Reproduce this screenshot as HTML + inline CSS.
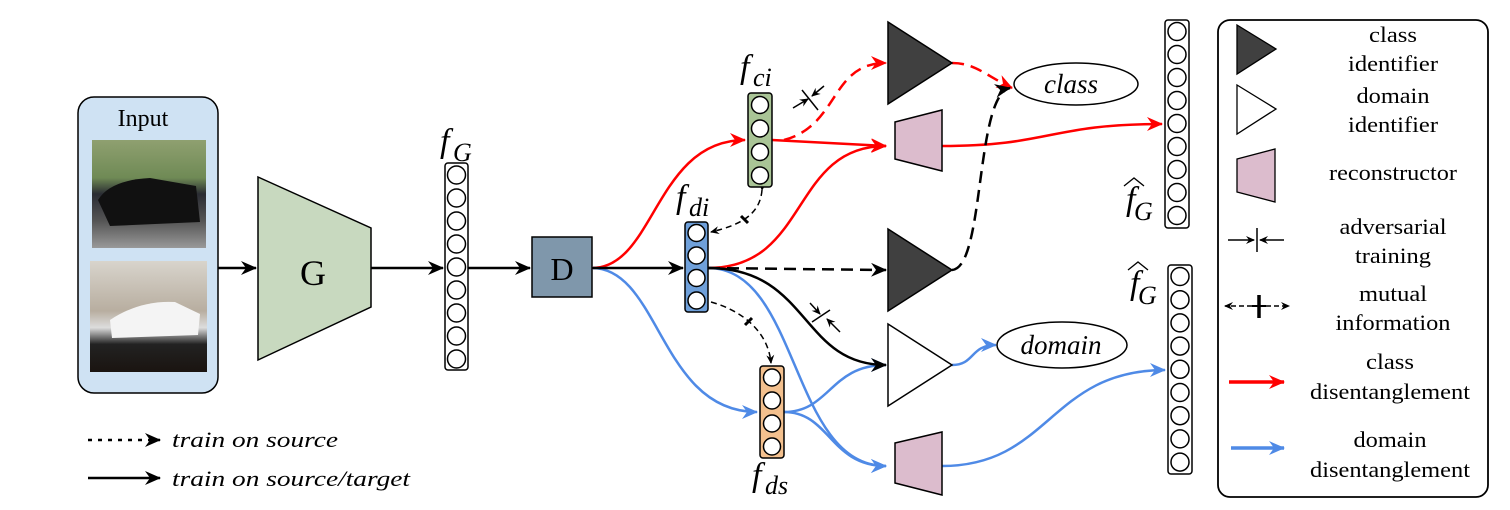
<!DOCTYPE html>
<html><head><meta charset="utf-8"><style>
html,body{margin:0;padding:0;background:#fff;}
svg{display:block;}
text{font-family:"Liberation Serif",serif;}
</style></head><body>
<svg width="1510" height="510" viewBox="0 0 1510 510" xmlns="http://www.w3.org/2000/svg">
<defs>
<marker id="ak" markerWidth="16" markerHeight="14" refX="15" refY="7" orient="auto" markerUnits="userSpaceOnUse"><path d="M0,0 L16,7 L0,14 L5,7 Z" fill="#000"/></marker>
<marker id="ar" markerWidth="16" markerHeight="14" refX="15" refY="7" orient="auto" markerUnits="userSpaceOnUse"><path d="M0,0 L16,7 L0,14 L5,7 Z" fill="#f00"/></marker>
<marker id="ab" markerWidth="16" markerHeight="14" refX="15" refY="7" orient="auto" markerUnits="userSpaceOnUse"><path d="M0,0 L16,7 L0,14 L5,7 Z" fill="#4f8ae6"/></marker>
<marker id="as" markerWidth="9" markerHeight="8" refX="8" refY="4" orient="auto" markerUnits="userSpaceOnUse"><path d="M0,0 L9,4 L0,8 L3,4 Z" fill="#000"/></marker>
<linearGradient id="p1" x1="0" y1="0" x2="0" y2="1"><stop offset="0" stop-color="#8fa070"/><stop offset="0.35" stop-color="#6f8a55"/><stop offset="0.5" stop-color="#2a2c33"/><stop offset="0.75" stop-color="#555"/><stop offset="1" stop-color="#999"/></linearGradient>
<linearGradient id="p2" x1="0" y1="0" x2="0" y2="1"><stop offset="0" stop-color="#d8d4cc"/><stop offset="0.45" stop-color="#b8aea0"/><stop offset="0.6" stop-color="#ddd"/><stop offset="0.75" stop-color="#222"/><stop offset="1" stop-color="#1a1410"/></linearGradient>
</defs>

<rect x="78" y="97" width="140" height="296" rx="16" fill="#cfe2f3" stroke="#000" stroke-width="1.5"/>
<text x="143" y="126" font-size="24" text-anchor="middle">Input</text>
<rect x="92" y="140" width="114" height="108" fill="url(#p1)"/>
<path d="M98,200 Q110,180 150,178 L196,186 L200,222 L110,226 Z" fill="#111"/>
<rect x="90" y="261" width="117" height="111" fill="url(#p2)"/>
<path d="M110,320 Q140,300 175,302 L200,314 L198,335 L112,338 Z" fill="#f4f4f4"/>
<line x1="218" y1="268" x2="256" y2="268" stroke="#000" stroke-width="2.5" marker-end="url(#ak)"/>

<polygon points="258,177 371,228 371,307 258,360" fill="#c8d9bf" stroke="#000" stroke-width="1.5"/>
<text x="313" y="285" font-size="36" text-anchor="middle">G</text>
<line x1="371" y1="268" x2="443" y2="268" stroke="#000" stroke-width="2.5" marker-end="url(#ak)"/>

<rect x="445" y="163" width="23" height="207" rx="3" fill="#fff" stroke="#000" stroke-width="1.5"/>
<g fill="#fff" stroke="#000" stroke-width="1.5">
<circle cx="456.5" cy="175" r="9"/><circle cx="456.5" cy="198" r="9"/><circle cx="456.5" cy="221" r="9"/><circle cx="456.5" cy="244" r="9"/><circle cx="456.5" cy="267" r="9"/><circle cx="456.5" cy="290" r="9"/><circle cx="456.5" cy="313" r="9"/><circle cx="456.5" cy="336" r="9"/><circle cx="456.5" cy="359" r="9"/>
</g>
<text x="440" y="152" font-size="34" font-style="italic">f</text><text x="453" y="161" font-size="26" font-style="italic">G</text>
<line x1="468" y1="268" x2="530" y2="268" stroke="#000" stroke-width="2.5" marker-end="url(#ak)"/>

<rect x="532" y="237" width="60" height="60" fill="#7f97ab" stroke="#000" stroke-width="1.5"/>
<text x="562" y="280" font-size="32" text-anchor="middle">D</text>

<g fill="none" stroke-width="2.5">
<path d="M592,268 C655,268 655,140 745,140" stroke="#f00" marker-end="url(#ar)"/>
<path d="M772,140 L886,146" stroke="#f00" marker-end="url(#ar)"/>
<path d="M708,268 C810,268 790,146 886,146" stroke="#f00" marker-end="url(#ar)"/>
<path d="M784,140 C840,125 830,63 886,63" stroke="#f00" stroke-dasharray="12,7" marker-end="url(#ar)"/>
<path d="M952,63 C975,63 985,75 1012,88" stroke="#f00" stroke-dasharray="12,7" marker-end="url(#ar)"/>
<path d="M942,146 C1050,146 1050,124 1162,124" stroke="#f00" marker-end="url(#ar)"/>

<path d="M592,268 C660,268 660,412 757,412" stroke="#4f8ae6" marker-end="url(#ab)"/>
<path d="M708,268 C800,268 790,466 886,466" stroke="#4f8ae6" marker-end="url(#ab)"/>
<path d="M784,412 C830,412 830,365 886,365" stroke="#4f8ae6" marker-end="url(#ab)"/>
<path d="M784,412 C830,412 830,466 886,466" stroke="#4f8ae6" marker-end="url(#ab)"/>
<path d="M952,365 C975,365 970,345 996,345" stroke="#4f8ae6" marker-end="url(#ab)"/>
<path d="M942,466 C1050,466 1050,370 1165,370" stroke="#4f8ae6" marker-end="url(#ab)"/>

<path d="M592,268 L683,268" stroke="#000" marker-end="url(#ak)"/>
<path d="M708,268 L886,270" stroke="#000" stroke-dasharray="12,7" marker-end="url(#ak)"/>
<path d="M952,270 C985,268 975,95 1010,88" stroke="#000" stroke-dasharray="12,7" marker-end="url(#ak)"/>
<path d="M708,268 C810,268 800,365 886,365" stroke="#000" marker-end="url(#ak)"/>
</g>
<g fill="none" stroke="#000" stroke-width="1.5" stroke-dasharray="6,4">
<path d="M762,190 C760,215 740,225 711,232" marker-end="url(#as)" marker-start="url(#as)"/>
<path d="M711,302 C740,310 768,330 771,363" marker-end="url(#as)"/>
</g>
<line x1="741" y1="216" x2="748" y2="223" stroke="#000" stroke-width="3"/>
<line x1="745" y1="325" x2="752" y2="318" stroke="#000" stroke-width="3"/>
<g stroke="#000" stroke-width="1.5" fill="none">
<line x1="802" y1="90" x2="818" y2="110"/><line x1="793" y1="108" x2="808" y2="99" marker-end="url(#as)"/><line x1="824" y1="86" x2="812" y2="96" marker-end="url(#as)"/>
<line x1="812" y1="322" x2="830" y2="310"/><line x1="810" y1="303" x2="820" y2="314" marker-end="url(#as)"/><line x1="840" y1="332" x2="827" y2="319" marker-end="url(#as)"/>
</g>

<rect x="748" y="93" width="24" height="94" rx="3" fill="#a9c496" stroke="#000" stroke-width="1.5"/>
<g fill="#fff" stroke="#000" stroke-width="1.5"><circle cx="760" cy="105" r="8.5"/><circle cx="760" cy="128.5" r="8.5"/><circle cx="760" cy="152" r="8.5"/><circle cx="760" cy="175.5" r="8.5"/></g>
<text x="740" y="78" font-size="34" font-style="italic">f</text><text x="753" y="86" font-size="26" font-style="italic">ci</text>
<rect x="685" y="222" width="23" height="90" rx="3" fill="#6fa0da" stroke="#000" stroke-width="1.5"/>
<g fill="#fff" stroke="#000" stroke-width="1.5"><circle cx="696.5" cy="233" r="8.5"/><circle cx="696.5" cy="255.5" r="8.5"/><circle cx="696.5" cy="278" r="8.5"/><circle cx="696.5" cy="300.5" r="8.5"/></g>
<text x="676" y="208" font-size="34" font-style="italic">f</text><text x="689" y="216" font-size="26" font-style="italic">di</text>
<rect x="760" y="366" width="24" height="92" rx="3" fill="#f3c08e" stroke="#000" stroke-width="1.5"/>
<g fill="#fff" stroke="#000" stroke-width="1.5"><circle cx="772" cy="377.5" r="8.5"/><circle cx="772" cy="400.5" r="8.5"/><circle cx="772" cy="423.5" r="8.5"/><circle cx="772" cy="446.5" r="8.5"/></g>
<text x="752" y="486" font-size="34" font-style="italic">f</text><text x="765" y="494" font-size="26" font-style="italic">ds</text>

<polygon points="888,22 952,63 888,104" fill="#404040" stroke="#000" stroke-width="1.5"/>
<polygon points="895,122 942,110 942,171 895,159" fill="#dcbccd" stroke="#000" stroke-width="1.5"/>
<polygon points="888,229 952,270 888,311" fill="#404040" stroke="#000" stroke-width="1.5"/>
<polygon points="888,324 952,365 888,406" fill="#fff" stroke="#000" stroke-width="1.5"/>
<polygon points="895,443 942,432 942,495 895,483" fill="#dcbccd" stroke="#000" stroke-width="1.5"/>

<ellipse cx="1076" cy="84" rx="62" ry="21" fill="#fff" stroke="#000" stroke-width="1.5"/>
<text x="1071" y="93" font-size="27" font-style="italic" text-anchor="middle">class</text>
<ellipse cx="1062" cy="345" rx="65" ry="23" fill="#fff" stroke="#000" stroke-width="1.5"/>
<text x="1061" y="354" font-size="27" font-style="italic" text-anchor="middle">domain</text>

<rect x="1165" y="20" width="24" height="208" rx="3" fill="#fff" stroke="#000" stroke-width="1.5"/>
<g fill="#fff" stroke="#000" stroke-width="1.5">
<circle cx="1177" cy="31.5" r="9"/><circle cx="1177" cy="54.5" r="9"/><circle cx="1177" cy="77.5" r="9"/><circle cx="1177" cy="100.5" r="9"/><circle cx="1177" cy="123.5" r="9"/><circle cx="1177" cy="146.5" r="9"/><circle cx="1177" cy="169.5" r="9"/><circle cx="1177" cy="192.5" r="9"/><circle cx="1177" cy="215.5" r="9"/>
</g>
<rect x="1168" y="265" width="24" height="209" rx="3" fill="#fff" stroke="#000" stroke-width="1.5"/>
<g fill="#fff" stroke="#000" stroke-width="1.5">
<circle cx="1180" cy="276.5" r="9"/><circle cx="1180" cy="299.7" r="9"/><circle cx="1180" cy="322.9" r="9"/><circle cx="1180" cy="346.1" r="9"/><circle cx="1180" cy="369.3" r="9"/><circle cx="1180" cy="392.5" r="9"/><circle cx="1180" cy="415.7" r="9"/><circle cx="1180" cy="438.9" r="9"/><circle cx="1180" cy="462.1" r="9"/>
</g>
<text x="1126" y="210" font-size="34" font-style="italic">f</text><text x="1134" y="220" font-size="26" font-style="italic">G</text>
<path d="M1124,186 L1134,178 L1144,186" fill="none" stroke="#000" stroke-width="1.3"/>
<text x="1130" y="294" font-size="34" font-style="italic">f</text><text x="1138" y="304" font-size="26" font-style="italic">G</text>
<path d="M1128,270 L1138,262 L1148,270" fill="none" stroke="#000" stroke-width="1.3"/>

<line x1="88" y1="440" x2="160" y2="440" stroke="#000" stroke-width="2.5" stroke-dasharray="4,6" marker-end="url(#ak)"/>
<text x="172" y="447" font-size="22" font-style="italic" textLength="166" lengthAdjust="spacingAndGlyphs">train on source</text>
<line x1="88" y1="478" x2="160" y2="478" stroke="#000" stroke-width="2.5" marker-end="url(#ak)"/>
<text x="172" y="486" font-size="22" font-style="italic" textLength="238" lengthAdjust="spacingAndGlyphs">train on source/target</text>

<rect x="1218" y="20" width="270" height="477" rx="12" fill="#fff" stroke="#000" stroke-width="1.8"/>
<polygon points="1237,25 1276,49 1237,74" fill="#404040" stroke="#000" stroke-width="1.3"/>
<polygon points="1237,85 1276,109 1237,134" fill="#fff" stroke="#000" stroke-width="1.3"/>
<polygon points="1237,159 1275,149 1275,202 1237,192" fill="#dcbccd" stroke="#000" stroke-width="1.3"/>
<g font-size="22" text-anchor="middle">
<text x="1393" y="42" textLength="48" lengthAdjust="spacingAndGlyphs">class</text><text x="1393" y="71" textLength="90" lengthAdjust="spacingAndGlyphs">identifier</text>
<text x="1393" y="103" textLength="73" lengthAdjust="spacingAndGlyphs">domain</text><text x="1393" y="132" textLength="90" lengthAdjust="spacingAndGlyphs">identifier</text>
<text x="1393" y="180" textLength="128" lengthAdjust="spacingAndGlyphs">reconstructor</text>
<text x="1393" y="234" textLength="107" lengthAdjust="spacingAndGlyphs">adversarial</text><text x="1393" y="263" textLength="76" lengthAdjust="spacingAndGlyphs">training</text>
<text x="1393" y="301" textLength="68" lengthAdjust="spacingAndGlyphs">mutual</text><text x="1393" y="330" textLength="115" lengthAdjust="spacingAndGlyphs">information</text>
<text x="1390" y="369" textLength="48" lengthAdjust="spacingAndGlyphs">class</text><text x="1390" y="399" textLength="160" lengthAdjust="spacingAndGlyphs">disentanglement</text>
<text x="1390" y="447" textLength="73" lengthAdjust="spacingAndGlyphs">domain</text><text x="1390" y="477" textLength="160" lengthAdjust="spacingAndGlyphs">disentanglement</text>
</g>
<g stroke="#000" stroke-width="1.5">
<line x1="1228" y1="240" x2="1254" y2="240" marker-end="url(#as)"/>
<line x1="1284" y1="240" x2="1260" y2="240" marker-end="url(#as)"/>
<line x1="1257" y1="228" x2="1257" y2="252"/>
<line x1="1252" y1="306" x2="1225" y2="306" stroke-dasharray="5,3" marker-end="url(#as)"/>
<line x1="1266" y1="306" x2="1289" y2="306" stroke-dasharray="5,3" marker-end="url(#as)"/>
<line x1="1259" y1="295" x2="1259" y2="318" stroke-width="3.5"/>
<line x1="1252" y1="306" x2="1266" y2="306" stroke-width="2"/>
</g>
<line x1="1229" y1="382" x2="1284" y2="382" stroke="#f00" stroke-width="3.5" marker-end="url(#ar)"/>
<line x1="1231" y1="448" x2="1284" y2="448" stroke="#4f8ae6" stroke-width="3.5" marker-end="url(#ab)"/>
</svg>
</body></html>
